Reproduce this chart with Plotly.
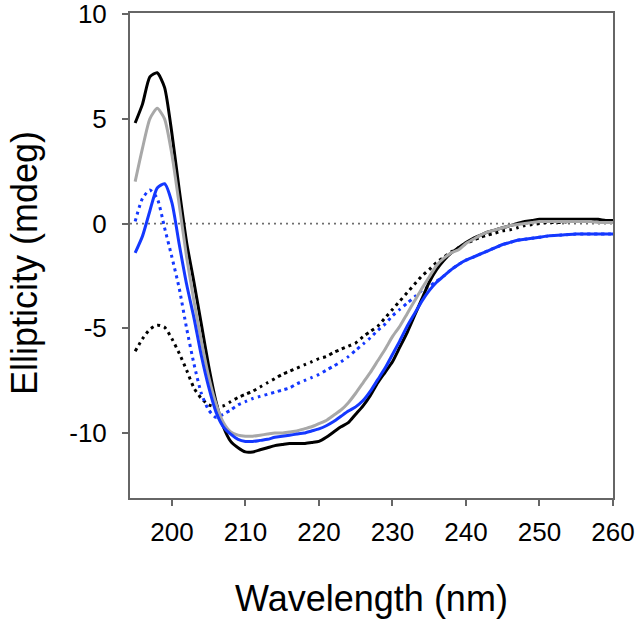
import plotly.graph_objects as go

wavelength = list(range(195, 261))

black_solid = [4.8, 5.7, 7.0, 7.2, 6.5, 4.3, 1.6, -0.9, -2.8, -4.8,
               -6.8, -8.5, -9.7, -10.4, -10.7, -10.9, -10.9, -10.8, -10.7, -10.6,
               -10.55, -10.5, -10.5, -10.5, -10.45, -10.4, -10.2, -9.95, -9.7, -9.5,
               -9.1, -8.7, -8.2, -7.6, -7.1, -6.6, -5.9, -5.2, -4.4, -3.6,
               -2.8, -2.2, -1.75, -1.4, -1.15, -0.9, -0.7, -0.55, -0.4, -0.3,
               -0.2, -0.1, 0.0, 0.1, 0.15, 0.2, 0.2, 0.2, 0.2, 0.2,
               0.2, 0.2, 0.2, 0.2, 0.15, 0.15]

gray_solid = [2.0, 3.6, 5.0, 5.5, 5.0, 3.3, 0.9, -1.6, -3.7, -5.6,
              -7.3, -8.6, -9.5, -9.95, -10.1, -10.15, -10.15, -10.1, -10.05, -10.0,
              -10.0, -9.95, -9.9, -9.8, -9.7, -9.55, -9.4, -9.15, -8.9, -8.55,
              -8.1, -7.6, -7.1, -6.55, -6.0, -5.4, -4.9, -4.3, -3.7, -3.1,
              -2.55, -2.0, -1.65, -1.4, -1.25, -0.95, -0.75, -0.55, -0.4, -0.3,
              -0.2, -0.1, -0.05, 0.0, 0.05, 0.1, 0.1, 0.1, 0.1, 0.1,
              0.1, 0.1, 0.1, 0.05, 0.05, 0.05]

blue_solid = [-1.4, -0.6, 0.6, 1.7, 1.9, 1.0, -1.0, -2.9, -4.5, -6.3,
              -7.8, -9.0, -9.7, -10.05, -10.3, -10.4, -10.4, -10.35, -10.3, -10.2,
              -10.15, -10.1, -10.05, -10.0, -9.9, -9.8, -9.65, -9.45, -9.2, -8.95,
              -8.75, -8.45, -8.0, -7.45, -6.9, -6.25, -5.6, -4.9, -4.3, -3.7,
              -3.2, -2.8, -2.5, -2.2, -1.95, -1.75, -1.6, -1.45, -1.3, -1.15,
              -1.0, -0.9, -0.8, -0.75, -0.7, -0.65, -0.6, -0.57, -0.55, -0.52,
              -0.5, -0.5, -0.5, -0.5, -0.5, -0.5]

blue_dotted = [0.1, 1.2, 1.6, 1.2, -0.2, -1.6, -3.1, -5.0, -6.7, -8.1,
               -8.9, -9.25, -9.1, -8.9, -8.65, -8.5, -8.35, -8.25, -8.15, -8.05,
               -7.95, -7.85, -7.65, -7.5, -7.35, -7.2, -7.0, -6.8, -6.6, -6.35,
               -6.05, -5.75, -5.45, -5.1, -4.8, -4.4, -4.1, -3.8, -3.5, -3.2,
               -3.0, -2.75, -2.5, -2.2, -1.95, -1.75, -1.6, -1.45, -1.3, -1.15,
               -1.0, -0.9, -0.8, -0.75, -0.7, -0.65, -0.6, -0.57, -0.55, -0.52,
               -0.5, -0.5, -0.5, -0.5, -0.5, -0.5]

black_dotted = [-6.1, -5.5, -5.05, -4.85, -4.95, -5.5, -6.2, -7.0, -7.85, -8.35,
                -8.65, -8.75, -8.7, -8.5, -8.3, -8.15, -8.0, -7.8, -7.6, -7.4,
                -7.2, -7.05, -6.9, -6.75, -6.6, -6.45, -6.35, -6.15, -6.0, -5.85,
                -5.7, -5.4, -5.15, -4.9, -4.5, -4.1, -3.7, -3.3, -2.9, -2.5,
                -2.2, -1.85, -1.6, -1.35, -1.15, -0.95, -0.8, -0.65, -0.55, -0.45,
                -0.35, -0.3, -0.2, -0.1, -0.05, 0.0, 0.05, 0.05, 0.05, 0.1,
                0.1, 0.1, 0.1, 0.1, 0.1, 0.1]

x_ticks = [200, 210, 220, 230, 240, 250, 260]
x_tick_labels = ["200", "210", "220", "230", "240", "250", "260"]
y_ticks = [10, 5, 0, -5, -10]
y_tick_labels = ["10", "5", "0", "-5", "-10"]

zero_x = [194.3, 260]
zero_y = [0, 0]

FONT = "Liberation Sans, Arial, sans-serif"
BLUE = "#1438ff"

fig = go.Figure()
fig.add_trace(go.Scatter(x=zero_x, y=zero_y, mode="lines",
                         line=dict(color="#6e6e6e", width=1.8, dash="2px,4px"),
                         showlegend=False, hoverinfo="skip"))

def curve(y, color, dash=None):
    return go.Scatter(x=wavelength, y=y, mode="lines",
                      line=dict(color=color, width=3, dash=dash,
                                shape="spline", smoothing=0.6),
                      showlegend=False)

fig.add_trace(curve(black_dotted, "black", "3px,4px"))
fig.add_trace(curve(blue_dotted, BLUE, "3px,4px"))
fig.add_trace(curve(black_solid, "black"))
fig.add_trace(curve(gray_solid, "#a8a8a8"))
fig.add_trace(curve(blue_solid, BLUE))

ML, MR, MT, MB = 130, 27, 13, 130
W, H = 640, 628
plot_w, plot_h = W - ML - MR, H - MT - MB

fig.update_layout(
    width=W, height=H,
    margin=dict(l=ML, r=MR, t=MT, b=MB),
    paper_bgcolor="white", plot_bgcolor="white",
    font=dict(family=FONT, color="black"),
    xaxis=dict(range=[194.3, 260], tickvals=x_ticks, ticktext=x_tick_labels,
               automargin=False, ticklabeloverflow="allow",
               showgrid=False, zeroline=False, showline=True, mirror=True,
               linecolor="#666666", linewidth=2, ticks="outside", ticklen=6,
               tickcolor="#666666", tickwidth=2, tickfont=dict(size=26),
               ticklabelstandoff=4,
               title=dict(text="Wavelength (nm)", font=dict(size=36), standoff=40)),
    yaxis=dict(range=[-13.1, 10.05], tickvals=y_ticks, ticktext=y_tick_labels,
               automargin=False, ticklabeloverflow="allow",
               showgrid=False, zeroline=False, showline=True, mirror=True,
               linecolor="#666666", linewidth=2, ticks="outside", ticklen=6,
               tickcolor="#666666", tickwidth=2, tickfont=dict(size=26),
               ticklabelstandoff=10),
    annotations=[dict(text="Ellipticity (mdeg)", textangle=-90, showarrow=False,
                      xref="paper", yref="paper",
                      x=(24 - ML) / plot_w, y=(H - MB - 263) / plot_h,
                      xanchor="center", yanchor="middle",
                      font=dict(size=36, family=FONT, color="black"))],
)

fig.write_html("out.html",
               config={"displayModeBar": False},
               post_script="document.body.style.margin='0';document.body.style.padding='0';")
